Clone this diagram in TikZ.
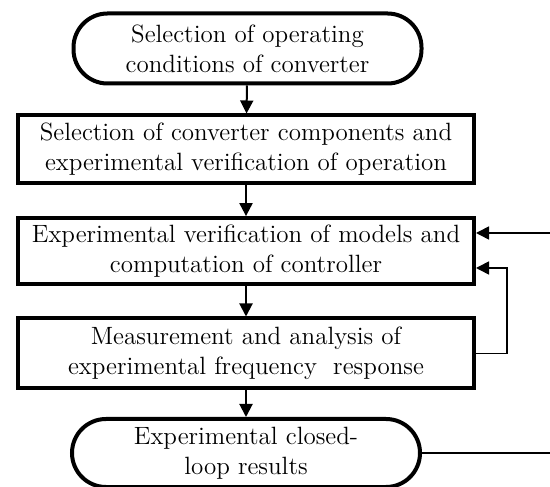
\documentclass[tikz,border=0pt]{standalone}
\usetikzlibrary{arrows.meta}

\begin{document}
\begin{tikzpicture}[x=0.5pt, y=0.5pt,
    every node/.style={font=\fontsize{12.5}{15}\selectfont, align=center},
    terminal/.style={draw, line width=2pt, rounded corners=17pt, minimum width=174pt, minimum height=35pt},
    process/.style={draw, line width=2pt, minimum width=228pt, minimum height=34pt},
    arr/.style={line width=1pt, -{Triangle[length=6.5pt, width=6.5pt]}},
    fb/.style={line width=0.8pt, -{Triangle[length=6.5pt, width=6.5pt]}}]
    \useasboundingbox (0,0) rectangle (550,486);

    % Draw the start and end terminals
    \node[terminal] (t1) at (247.5, 437.5) {Selection of operating\\conditions of converter};
    \node[terminal, minimum height=34pt] (t5) at (246, 33) {Experimental closed-\\loop results};

    % Draw the process boxes
    \node[process] (b2) at (246, 336.5) {Selection of converter components and\\experimental verification of operation};
    \node[process, minimum height=32pt] (b3) at (246, 235) {Experimental verification of models and\\computation of controller};
    \node[process, minimum height=35pt] (b4) at (246, 132.5) {Measurement and analysis of\\experimental frequency~ response};

    % Draw the main flow
    \draw[arr] (t1) -- (b2);
    \draw[arr] (b2) -- (b3);
    \draw[arr] (b3) -- (b4);
    \draw[arr] (b4) -- (t5);

    % Draw the feedback loops
    \coordinate (in1) at ([yshift=9pt]b3.east);
    \coordinate (in2) at ([yshift=-8.5pt]b3.east);
    \coordinate (far) at (562, 0);
    \coordinate (near) at (507, 0);
    \draw[fb] (t5.east) -- (t5.east -| far) -- (in1 -| far) -- (in1);
    \draw[fb] (b4.east) -- (b4.east -| near) -- (in2 -| near) -- (in2);

\end{tikzpicture}
\end{document}
